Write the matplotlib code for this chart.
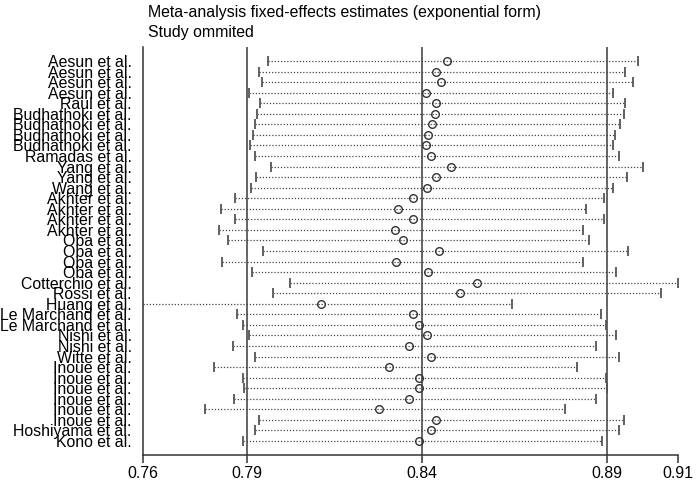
import matplotlib
matplotlib.use("Agg")
import matplotlib.pyplot as plt

plt.rcParams['font.family'] = ['Liberation Sans', 'DejaVu Sans']

studies = ["Aesun et al.", "Aesun et al.", "Aesun et al.", "Aesun et al.", "Raul et al.",
           "Budhathoki et al.", "Budhathoki et al.", "Budhathoki et al.", "Budhathoki et al.",
           "Ramadas et al.", "Yang et al.", "Yang et al.", "Wang et al.",
           "Akhter et al.", "Akhter et al.", "Akhter et al.", "Akhter et al.",
           "Oba et al.", "Oba et al.", "Oba et al.", "Oba et al.",
           "Cotterchio et al.", "Rossi et al.", "Huang et al.",
           "Le Marchand et al.", "Le Marchand et al.", "Nishi et al.", "Nishi et al.",
           "Witte et al.", "Inoue et al.", "Inoue et al.", "Inoue et al.", "Inoue et al.",
           "Inoue et al.", "Inoue et al.", "Hoshiyama et al.", "Kono et al."]

estimate = [0.8472, 0.8441, 0.8455, 0.8412, 0.8441, 0.8439, 0.8429, 0.8419, 0.8412,
            0.8426, 0.8485, 0.8441, 0.8414, 0.8375, 0.8331, 0.8375, 0.8323,
            0.8346, 0.8450, 0.8327, 0.8419, 0.8558, 0.8509, 0.8112,
            0.8375, 0.8391, 0.8414, 0.8363, 0.8426, 0.8307, 0.8391, 0.8391,
            0.8363, 0.8279, 0.8441, 0.8427, 0.8393]

lower = [0.7961, 0.7936, 0.7944, 0.7907, 0.7938, 0.7931, 0.7925, 0.7917, 0.7909,
         0.7925, 0.7969, 0.7927, 0.7912, 0.7867, 0.7826, 0.7866, 0.7822,
         0.7847, 0.7947, 0.7829, 0.7915, 0.8025, 0.7976, 0.7605,
         0.7873, 0.7890, 0.7907, 0.7861, 0.7925, 0.7807, 0.7890, 0.7893,
         0.7864, 0.7781, 0.7934, 0.7925, 0.7890]

upper = [0.9018, 0.8980, 0.9002, 0.8947, 0.8980, 0.8977, 0.8967, 0.8953, 0.8947,
         0.8963, 0.9033, 0.8987, 0.8947, 0.8921, 0.8869, 0.8921, 0.8862,
         0.8878, 0.8989, 0.8860, 0.8955, 0.9131, 0.9083, 0.8659,
         0.8911, 0.8927, 0.8955, 0.8899, 0.8963, 0.8844, 0.8927, 0.8929,
         0.8898, 0.8809, 0.8978, 0.8963, 0.8916]

pooled = [0.7900, 0.8400, 0.8930]   # lower CI, estimate, upper CI
tick_labels = ["0.76", "0.79", "0.84", "0.89", "0.91"]

W, H = 697, 480
fig = plt.figure(figsize=(W / 100, H / 100), dpi=100)
ax = fig.add_axes([143.3 / W, 25 / H, (677.7 - 143.3) / W, (455 - 47) / H])

n = len(studies)
ypos = list(range(n))
xmin, xmax = min(lower), max(upper)

# reference lines
for v in pooled:
    ax.axvline(v, color='#4a4a4a', lw=1.2, zorder=1)

# dotted CI lines
for y, lo, hi in zip(ypos, lower, upper):
    ax.plot([lo, hi], [y, y], color='#444444', lw=0.9, ls=(0, (1, 1.5)), zorder=2)

ax.plot(lower, ypos, ls='none', marker='|', ms=7.7, mew=1.3, color='#555555', zorder=3)
ax.plot(upper, ypos, ls='none', marker='|', ms=7.7, mew=1.3, color='#555555', zorder=3)
ax.plot(estimate, ypos, ls='none', marker='o', ms=5.5, mfc='none', mec='#333333', mew=1.0, zorder=4)

ax.set_xlim(xmin, xmax)
pad_rows = 14 / 10.55
ax.set_ylim(n - 1 + pad_rows, -pad_rows)

ax.set_xticks([xmin] + pooled + [xmax])
ax.set_xticklabels(tick_labels, fontsize=11.4)
ax.set_yticks(ypos)
ax.set_yticklabels(studies, fontsize=11.4)
ax.tick_params(axis='y', length=0, pad=8.4)
ax.tick_params(axis='x', length=5.8, width=1.1, direction='out', pad=2.0, color='#333333')

for s in ['top', 'right']:
    ax.spines[s].set_visible(False)
for s in ['left', 'bottom']:
    ax.spines[s].set_color('#333333')
    ax.spines[s].set_linewidth(1.1)

fig.text(148.3 / W, 1 - 16.7 / H, "Meta-analysis fixed-effects estimates (exponential form)",
         fontsize=11.4, va='baseline', ha='left')
fig.text(148.3 / W, 1 - 37.3 / H, "Study ommited", fontsize=11.4, va='baseline', ha='left')

fig.savefig("out.png", dpi=100, facecolor='white')
